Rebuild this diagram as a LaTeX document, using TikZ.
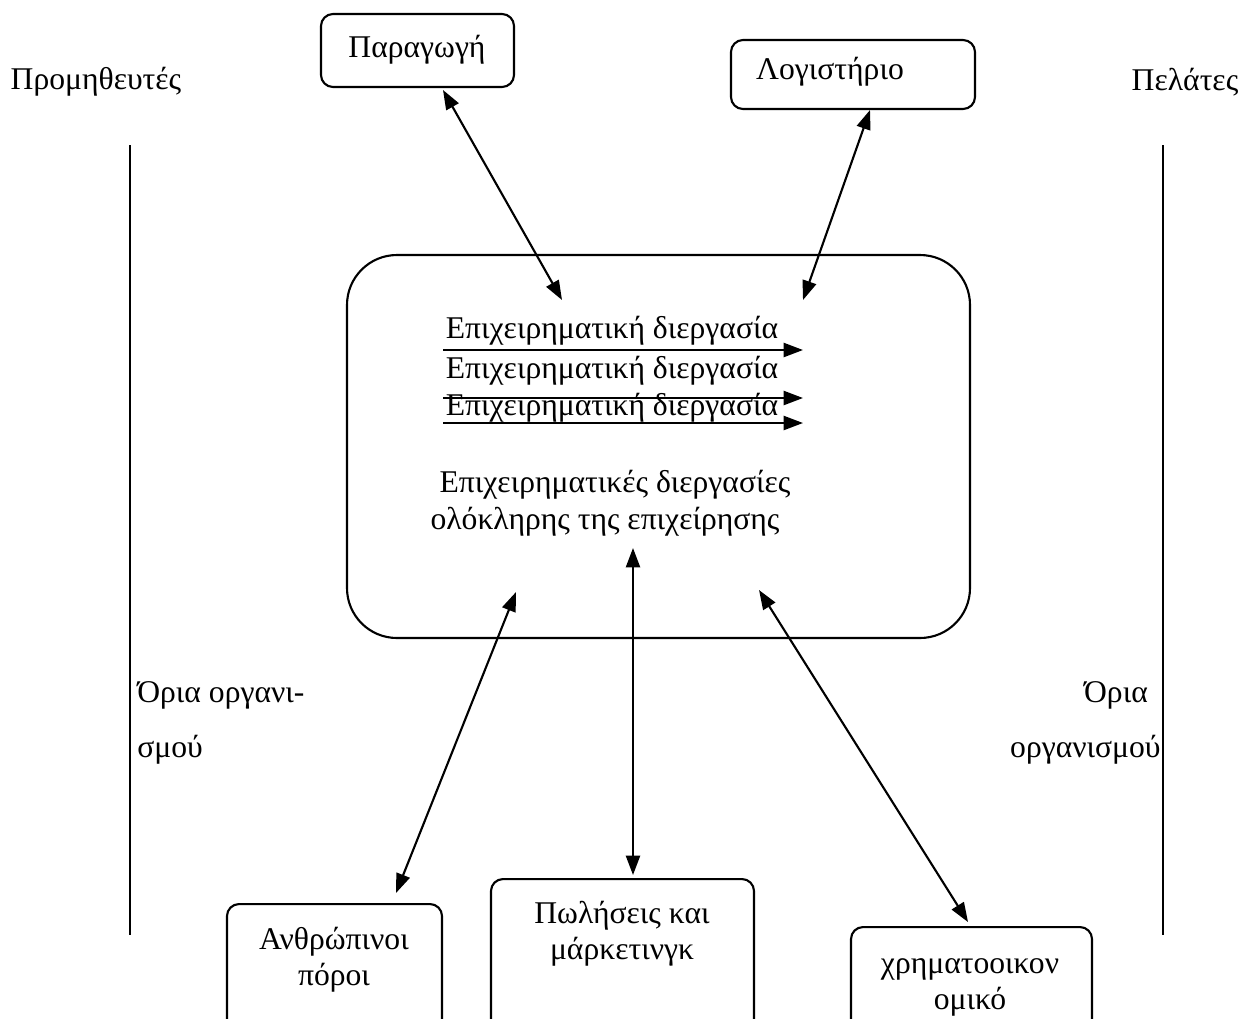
\documentclass[tikz,border=0pt]{standalone}
\usepackage{fontspec}
\setmainfont{Liberation Serif}
\usetikzlibrary{arrows.meta}
\begin{document}
\begin{tikzpicture}[x=0.02cm,y=-0.02cm,
  every node/.style={font=\fontsize{18}{20.5}\selectfont, inner sep=0pt},
  dept/.style={draw, line width=1.2pt, rounded corners=0.24cm},
  link/.style={line width=1.2pt, {Triangle[length=11pt,width=8pt]}-{Triangle[length=11pt,width=8pt]}},
  flow/.style={line width=1.2pt, -{Triangle[length=11pt,width=8pt]}},
  border/.style={line width=1.2pt}]
\useasboundingbox (0,0) rectangle (1244,1018);
\clip (0,0) rectangle (1244,1018);

% outside parties
\node (supp) at (96,82) {Προμηθευτές};
\node (cust) at (1185,82) {Πελάτες};

% organisation boundaries
\coordinate (lbTop) at (130,145);
\coordinate (lbBot) at (130,935);
\coordinate (rbTop) at (1163,145);
\coordinate (rbBot) at (1163,935);
\draw[border] (lbTop) -- (lbBot);
\draw[border] (rbTop) -- (rbBot);
\node[anchor=west] (lbl1) at (137,695) {Όρια οργανι-};
\node[anchor=west] (lbl2) at (137,750) {σμού};
\node (rbl1) at (1116,695) {Όρια};
\node[anchor=east] (rbl2) at (1161,750) {οργανισμού};

% top departments
\node[dept, minimum width=193*0.02cm, minimum height=73*0.02cm] (prod) at (417.5,50.5) {};
\node (prodT) at (417,50) {Παραγωγή};
\node[dept, minimum width=244*0.02cm, minimum height=69*0.02cm] (acc) at (853,74.5) {};
\node (accT) at (830,72) {Λογιστήριο};

% enterprise-wide processes
\node[draw, line width=1.2pt, rounded corners=1cm, minimum width=623*0.02cm, minimum height=383*0.02cm] (core) at (658.5,446.5) {};
\node (p1) at (612,331) {Επιχειρηματική διεργασία};
\node (p2) at (612,371) {Επιχειρηματική διεργασία};
\node (p3) at (612,408) {Επιχειρηματική διεργασία};
\coordinate (f1s) at (443,350); \coordinate (f1e) at (803,350);
\coordinate (f2s) at (443,398); \coordinate (f2e) at (803,398);
\coordinate (f3s) at (443,423); \coordinate (f3e) at (803,423);
\draw[flow] (f1s) -- (f1e);
\draw[flow] (f2s) -- (f2e);
\draw[flow] (f3s) -- (f3e);
\node (all1) at (615,485) {Επιχειρηματικές διεργασίες};
\node (all2) at (605,522) {ολόκληρης της επιχείρησης};

% bottom departments
\node[dept, anchor=north, minimum width=215*0.02cm, minimum height=160*0.02cm] (hr) at (334.5,903) {};
\node (hrT) at (334,960) [align=center] {Ανθρώπινοι\\πόροι};
\node[dept, anchor=north, minimum width=263*0.02cm, minimum height=180*0.02cm] (sales) at (622.5,878) {};
\node (salesT) at (622,934) [align=center] {Πωλήσεις και\\μάρκετινγκ};
\node[dept, anchor=north, minimum width=241*0.02cm, minimum height=140*0.02cm] (fin) at (971.5,926) {};
\node (finT) at (970,987) [align=center] {χρηματοοικον\\ομικό};

% links between departments and processes
\coordinate (cProd) at (562,300);
\coordinate (cAcc) at (803,300);
\coordinate (cHr) at (516,592);
\coordinate (cSales) at (633,548);
\coordinate (cFin) at (759,590);
\coordinate (eProd) at (443,90);
\coordinate (eAcc) at (870,110);
\coordinate (eHr) at (396,893);
\coordinate (eSales) at (633,875);
\coordinate (eFin) at (968,922);
\draw[link] (eProd) -- (cProd);
\draw[link] (eAcc) -- (cAcc);
\draw[link] (cHr) -- (eHr);
\draw[link] (cSales) -- (eSales);
\draw[link] (cFin) -- (eFin);
\end{tikzpicture}
\end{document}
